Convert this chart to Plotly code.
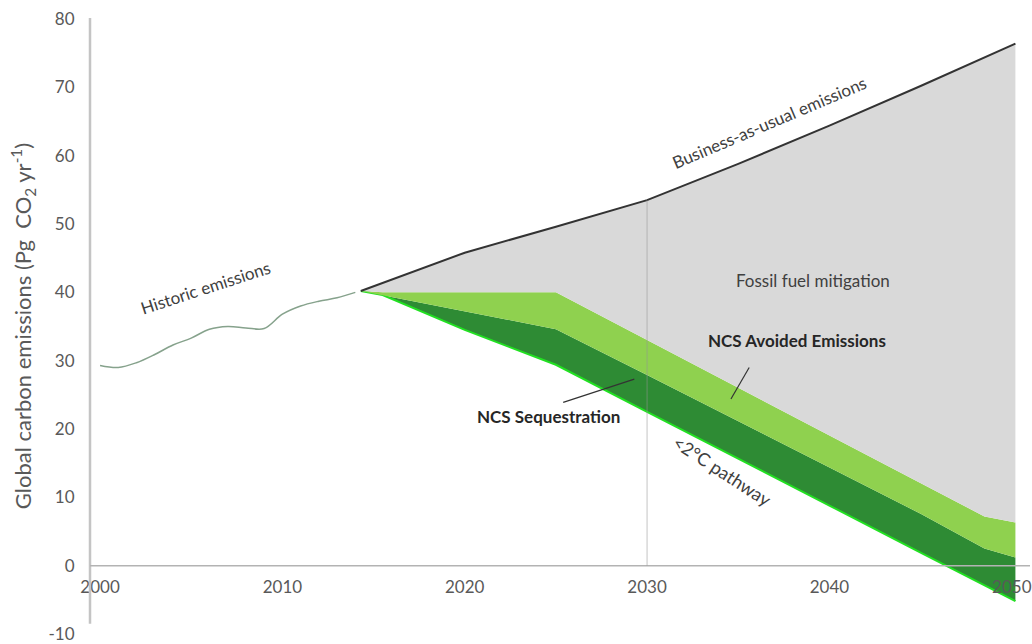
import plotly.graph_objects as go

# ---------------- data ----------------
hist_years = [2000, 2001, 2002, 2003, 2004, 2005, 2006, 2007, 2008, 2009, 2010, 2011, 2012, 2013, 2014]
hist_vals = [29.3, 29.0, 29.7, 30.9, 32.3, 33.3, 34.6, 35.0, 34.8, 34.7, 36.8, 38.0, 38.7, 39.2, 40.0]

bau_years = [2014.3, 2020, 2025, 2030, 2035, 2040, 2045, 2050.2]
bau_vals = [40.2, 45.8, 49.6, 53.5, 58.8, 64.4, 70.2, 76.4]

avoided_top_years = [2014.3, 2015.5, 2025, 2030, 2035, 2040, 2045, 2048.5, 2050.2]
avoided_top_vals = [40.2, 40.0, 40.0, 33.0, 26.0, 19.0, 12.0, 7.2, 6.3]

seq_top_years = [2014.3, 2025, 2030, 2035, 2040, 2045, 2048.5, 2050.2]
seq_top_vals = [40.2, 34.6, 27.9, 21.1, 14.4, 7.6, 2.5, 1.2]

path_years = [2014.3, 2015.5, 2020, 2025, 2030, 2035, 2040, 2045, 2050.2]
path_vals = [40.2, 39.6, 34.5, 29.4, 22.5, 15.7, 8.8, 1.9, -5.2]

x_ticks = [2000, 2010, 2020, 2030, 2040, 2050]
y_ticks = [-10, 0, 10, 20, 30, 40, 50, 60, 70, 80]

FONT = "Lato"
GREY_TXT = "#595959"

fig = go.Figure()

# <2°C pathway (bottom edge)
fig.add_trace(go.Scatter(x=path_years, y=path_vals, mode="lines",
                         line=dict(color="#22e022", width=2), hoverinfo="skip"))
# NCS sequestration (dark green)
fig.add_trace(go.Scatter(x=seq_top_years, y=seq_top_vals, mode="lines",
                         line=dict(width=0, color="#2e8b34"), fill="tonexty",
                         fillcolor="#2e8b34", hoverinfo="skip"))
# NCS avoided emissions (light green)
fig.add_trace(go.Scatter(x=avoided_top_years, y=avoided_top_vals, mode="lines",
                         line=dict(width=0, color="#8fd14f"), fill="tonexty",
                         fillcolor="#8fd14f", hoverinfo="skip"))
# Business as usual with fossil fuel mitigation fill (grey)
fig.add_trace(go.Scatter(x=bau_years, y=bau_vals, mode="lines",
                         line=dict(width=2, color="#333333"), fill="tonexty",
                         fillcolor="#d9d9d9", hoverinfo="skip"))
# Historic emissions
fig.add_trace(go.Scatter(x=hist_years, y=hist_vals, mode="lines", line_shape="spline",
                         line=dict(width=1.5, color="#86a28c"), hoverinfo="skip"))

shapes = [
    # y axis line
    dict(type="line", xref="paper", x0=0, x1=0, yref="y", y0=-8.5, y1=80.15,
         line=dict(color="#c4c4c4", width=2.5), layer="above"),
    # zero line
    dict(type="line", xref="paper", x0=0, x1=1, yref="y", y0=0, y1=0,
         line=dict(color="#b3b3b3", width=1.5), layer="above"),
    # 2030 vertical line
    dict(type="line", xref="x", x0=2030, x1=2030, yref="y", y0=0, y1=bau_vals[3],
         line=dict(color="rgba(150,150,150,0.55)", width=1), layer="above"),
    # leader lines
    dict(type="line", xref="x", yref="y", x0=2025.4, y0=23.9, x1=2029.3, y1=27.3,
         line=dict(color="#333333", width=1.2), layer="above"),
    dict(type="line", xref="x", yref="y", x0=2034.6, y0=24.4, x1=2035.6, y1=29.0,
         line=dict(color="#333333", width=1.2), layer="above"),
]

ann_font = dict(family=FONT, size=17, color="#404040")
bold_font = dict(family=FONT, size=17, color="#262626")
annotations = [
    dict(x=2005.8, y=40.7, text="Historic emissions", textangle=-18, font=ann_font),
    dict(x=2036.7, y=64.8, text="Business-as-usual emissions", textangle=-23, font=ann_font),
    dict(x=2039.1, y=41.8, text="Fossil fuel mitigation", font=ann_font),
    dict(x=2038.2, y=33.0, text="<b>NCS Avoided Emissions</b>", font=bold_font),
    dict(x=2024.6, y=21.9, text="<b>NCS Sequestration</b>", font=bold_font),
    dict(x=2034.15, y=13.9, text="<2°C pathway", textangle=33,
         font=dict(family=FONT, size=18, color="#404040")),
]
for a in annotations:
    a.update(xref="x", yref="y", showarrow=False)

fig.update_layout(
    width=1032, height=644,
    margin=dict(l=90, r=0, t=18, b=9),
    paper_bgcolor="white", plot_bgcolor="white",
    showlegend=False,
    font=dict(family=FONT, color=GREY_TXT),
    shapes=shapes,
    annotations=annotations,
    xaxis=dict(range=[1999.45, 2051.0], tickvals=x_ticks, ticktext=[str(v) for v in x_ticks],
               showgrid=False, zeroline=False, showline=False,
               anchor="free", position=10 / 90.15,
               ticks="outside", ticklen=6, tickcolor="rgba(0,0,0,0)",
               ticklabeloverflow="allow",
               tickfont=dict(family=FONT, size=17, color=GREY_TXT)),
    yaxis=dict(range=[-10, 80.15], tickvals=y_ticks, ticktext=[str(v) for v in y_ticks],
               showgrid=False, zeroline=False, showline=False,
               ticks="outside", ticklen=11, tickcolor="rgba(0,0,0,0)",
               ticklabeloverflow="allow",
               tickfont=dict(family=FONT, size=17, color=GREY_TXT),
               title=dict(text="Global carbon emissions (Pg  CO<sub>2</sub> yr<sup>-1</sup>)",
                          font=dict(family=FONT, size=22, color=GREY_TXT), standoff=10)),
)

fig.write_html("out.html")
